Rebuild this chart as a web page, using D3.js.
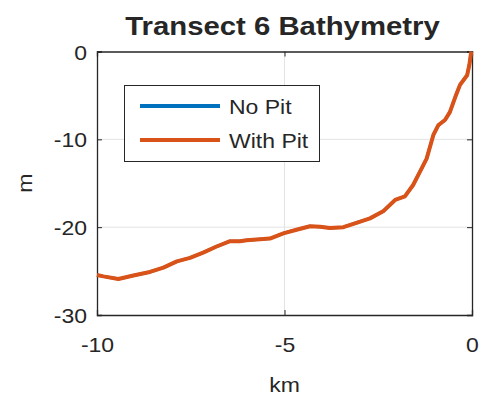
<!DOCTYPE html>
<html>
<head>
<meta charset="utf-8">
<script src="https://cdn.jsdelivr.net/npm/d3@7"></script>
<style>
  body { margin: 0; background: #fff; }
  text { font-family: "Liberation Sans", Arial, sans-serif; fill: #262626; }
</style>
</head>
<body>
<script>
const width = 483;
const height = 402;

// distance along transect (km) and depth (m)
const distKm = [-10, -9.83, -9.43, -9.03, -8.59, -8.23, -7.87, -7.52, -7.17, -6.81, -6.45, -6.19,
  -6.01, -5.39, -5.03, -4.68, -4.32, -4.05, -3.79, -3.43, -3.08, -2.72, -2.37, -2.05, -1.79,
  -1.57, -1.39, -1.21, -1.03, -0.9, -0.72, -0.59, -0.43, -0.32, -0.13, -0.07, -0.02];
const depthWithPit = [-25.45, -25.6, -25.9, -25.5, -25.1, -24.6, -23.9, -23.5, -22.9, -22.2, -21.6, -21.6,
  -21.5, -21.3, -20.7, -20.3, -19.9, -19.95, -20.1, -20.0, -19.5, -19.0, -18.2, -16.9, -16.5,
  -15.2, -13.7, -12.2, -9.5, -8.4, -7.8, -6.9, -5.0, -3.8, -2.7, -1.5, 0];
const depthNoPit = depthWithPit.slice();

const xTicks = [-10, -5, 0];
const yTicks = [0, -10, -20, -30];
const seriesNames = ['No Pit', 'With Pit'];
const seriesColors = ['#0072BD', '#D95319'];

const mLeft = 97, mRight = 472, mTop = 51.5, mBottom = 315;
const sx = 1.15; // horizontal stretch of the text in the reference

var xScale = d3.scaleLinear().domain([-10, 0]).range([mLeft, mRight]);
var yScale = d3.scaleLinear().domain([-30, 0]).range([mBottom, mTop]);

const svg = d3.select('body')
    .append('svg')
    .attr('width', width)
    .attr('height', height);

// grid
svg.append('g')
    .selectAll('line')
    .data(xTicks.slice(1, -1))
    .enter()
    .append('line')
    .attr('x1', d => xScale(d)).attr('x2', d => xScale(d))
    .attr('y1', mTop).attr('y2', mBottom)
    .attr('stroke', '#e3e3e3');
svg.append('g')
    .selectAll('line')
    .data(yTicks.slice(1, -1))
    .enter()
    .append('line')
    .attr('x1', mLeft).attr('x2', mRight)
    .attr('y1', d => yScale(d)).attr('y2', d => yScale(d))
    .attr('stroke', '#e3e3e3');

// axes, ticks inward
const xAxis = d3.axisBottom(xScale).tickValues(xTicks).tickSize(-5).tickPadding(0);
const yAxis = d3.axisLeft(yScale).tickValues(yTicks).tickSize(-5).tickPadding(0);

const gx = svg.append('g').attr('transform', `translate(0, ${mBottom})`).call(xAxis);
gx.selectAll('text')
    .attr('y', 0)
    .attr('dy', null)
    .attr('transform', `translate(0, 37) scale(${sx}, 1)`)
    .style('font-size', '20px')
    .text(d => d);

const gy = svg.append('g').attr('transform', `translate(${mLeft}, 0)`).call(yAxis);
gy.selectAll('text')
    .attr('x', 0)
    .attr('dy', null)
    .attr('transform', `translate(-10, 7.5) scale(${sx}, 1)`)
    .style('font-size', '20px')
    .text(d => d);

svg.append('g').attr('transform', `translate(0, ${mTop})`)
    .call(d3.axisTop(xScale).tickValues(xTicks).tickSize(-5).tickFormat(''));
svg.append('g').attr('transform', `translate(${mRight}, 0)`)
    .call(d3.axisRight(yScale).tickValues(yTicks).tickSize(-5).tickFormat(''));

svg.selectAll('.domain').attr('stroke', '#262626').attr('stroke-width', 1.3);
svg.selectAll('.tick line').attr('stroke', '#262626');
svg.selectAll('.tick text').attr('fill', '#262626').style('font-family', '"Liberation Sans", Arial, sans-serif');

// lines (No Pit sits exactly under With Pit)
const line = d3.line()
    .x((d, i) => xScale(distKm[i]))
    .y(d => yScale(d));

[depthNoPit, depthWithPit].forEach((s, k) => {
    svg.append('path')
        .datum(s)
        .attr('d', line)
        .attr('fill', 'none')
        .attr('stroke', seriesColors[k])
        .attr('stroke-width', k === 0 ? 3 : 4)
        .attr('stroke-linejoin', 'round');
});

// title and labels
svg.append('text')
    .attr('transform', `translate(${(mLeft + mRight) / 2 - 2}, 35) scale(${sx}, 1)`)
    .attr('text-anchor', 'middle')
    .style('font-size', '25.5px')
    .style('font-weight', 'bold')
    .attr('fill', '#000')
    .text('Transect 6 Bathymetry');

svg.append('text')
    .attr('transform', `translate(${(mLeft + mRight) / 2}, 392) scale(${sx}, 1)`)
    .attr('text-anchor', 'middle')
    .style('font-size', '20px')
    .text('km');

svg.append('text')
    .attr('transform', `translate(32, ${(mTop + mBottom) / 2}) rotate(-90) scale(${sx}, 1)`)
    .attr('text-anchor', 'middle')
    .style('font-size', '20px')
    .text('m');

// legend
const legend = svg.append('g');
legend.append('rect')
    .attr('x', 124.5).attr('y', 85.5)
    .attr('width', 195).attr('height', 76)
    .attr('fill', '#fff')
    .attr('stroke', '#262626')
    .attr('stroke-width', 1);

seriesNames.forEach((name, k) => {
    const y = 106 + k * 34;
    legend.append('line')
        .attr('x1', 140).attr('x2', 220)
        .attr('y1', y).attr('y2', y)
        .attr('stroke', seriesColors[k])
        .attr('stroke-width', 4);
    legend.append('text')
        .attr('transform', `translate(229, ${y + 7.5}) scale(${sx}, 1)`)
        .style('font-size', '20px')
        .text(name);
});
</script>
</body>
</html>
